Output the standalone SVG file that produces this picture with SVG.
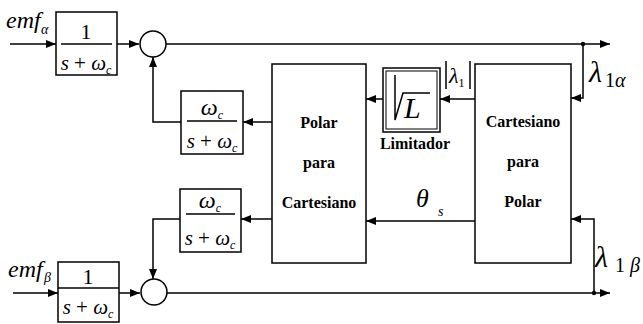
<svg xmlns="http://www.w3.org/2000/svg" width="643" height="324" viewBox="0 0 643 324">
<style>
.b{fill:#fff;stroke:#000;stroke-width:1.5}
.l{fill:none;stroke:#000;stroke-width:1.5}
.t{fill:#000}
.i{font-style:italic}
.bd{font-weight:bold;font-size:16px}
</style>
<defs>
<marker id="a" viewBox="0 0 10 8" refX="10" refY="4" markerWidth="10" markerHeight="8" markerUnits="userSpaceOnUse" orient="auto"><path d="M0,0L10,4L0,8z" fill="#000"/></marker>
</defs>
<g id="connectors">
<path class="l" d="M10,44H56" marker-end="url(#a)"/>
<path class="l" d="M117,44H139" marker-end="url(#a)"/>
<path class="l" d="M166,44H610" marker-end="url(#a)"/>
<path class="l" d="M583,44V98H571" marker-end="url(#a)"/>
<circle cx="583" cy="44" r="2.2"/>
<path class="l" d="M13,293H58" marker-end="url(#a)"/>
<path class="l" d="M119,293H140" marker-end="url(#a)"/>
<path class="l" d="M167,293H610" marker-end="url(#a)"/>
<path class="l" d="M594,293V219H571" marker-end="url(#a)"/>
<circle cx="594" cy="293" r="2.2"/>
<path class="l" d="M475,99H440" marker-end="url(#a)"/>
<path class="l" d="M383,99H366" marker-end="url(#a)"/>
<path class="l" d="M475,221H366" marker-end="url(#a)"/>
<path class="l" d="M272,122H243" marker-end="url(#a)"/>
<path class="l" d="M181,122H153V57" marker-end="url(#a)"/>
<path class="l" d="M272,219H241" marker-end="url(#a)"/>
<path class="l" d="M180,219H153V279" marker-end="url(#a)"/>
</g>
<g font-family="'Liberation Serif', 'DejaVu Serif', serif">
<g id="emf_alpha"><text class="t i" x="6" y="28" font-size="24">emf</text><text class="t i" x="41" y="34" font-size="14">α</text></g>
<g id="tf_alpha">
<rect class="b" x="56" y="12" width="61" height="63"/>
<path class="l" d="M61,44H112"/>
<text class="t" x="86" y="39" font-size="22" text-anchor="middle">1</text>
<text class="t" x="86" y="70" font-size="21" text-anchor="middle"><tspan class="i">s</tspan> + <tspan class="i">ω</tspan><tspan class="i" font-size="12" dy="4">c</tspan></text>
</g>
<g id="sum_alpha"><circle class="b" cx="153" cy="44" r="13"/></g>
<g id="emf_beta"><text class="t i" x="8" y="277" font-size="24">emf</text><text class="t i" x="44" y="282" font-size="14">β</text></g>
<g id="tf_beta">
<rect class="b" x="58" y="262" width="61" height="60"/>
<path class="l" d="M58,288H119"/>
<text class="t" x="88" y="284" font-size="22" text-anchor="middle">1</text>
<text class="t" x="88" y="314" font-size="21" text-anchor="middle"><tspan class="i">s</tspan> + <tspan class="i">ω</tspan><tspan class="i" font-size="12" dy="4">c</tspan></text>
</g>
<g id="sum_beta"><circle class="b" cx="154" cy="292" r="13"/></g>
<g id="lpf_alpha">
<rect class="b" x="181" y="91" width="62" height="63"/>
<path class="l" d="M187,121H237"/>
<text class="t i" x="212" y="115" font-size="24" text-anchor="middle">ω<tspan font-size="12" dy="4">c</tspan></text>
<text class="t" x="212" y="148" font-size="21" text-anchor="middle"><tspan class="i">s</tspan> + <tspan class="i">ω</tspan><tspan class="i" font-size="12" dy="4">c</tspan></text>
</g>
<g id="lpf_beta">
<rect class="b" x="180" y="189" width="61" height="63"/>
<path class="l" d="M186,214H235"/>
<text class="t i" x="210" y="208" font-size="24" text-anchor="middle">ω<tspan font-size="12" dy="4">c</tspan></text>
<text class="t" x="210" y="245" font-size="21" text-anchor="middle"><tspan class="i">s</tspan> + <tspan class="i">ω</tspan><tspan class="i" font-size="12" dy="4">c</tspan></text>
</g>
<g id="polar_cart">
<rect class="b" x="272" y="64" width="94" height="199"/>
<text class="t bd" x="319" y="128" text-anchor="middle">Polar</text>
<text class="t bd" x="319" y="168" text-anchor="middle">para</text>
<text class="t bd" x="319" y="208" text-anchor="middle">Cartesiano</text>
</g>
<g id="limitador">
<rect class="b" x="383" y="68" width="57" height="64"/>
<rect x="386" y="71" width="51" height="58" fill="none" stroke="#000" stroke-width="1"/>
<path class="l" d="M395,75V120L403,93H430"/>
<text class="t i" x="404" y="118" font-size="30">L</text>
<text class="t bd" x="415" y="149" text-anchor="middle">Limitador</text>
</g>
<g id="abs_lambda">
<path class="l" d="M446,61V89M470,61V89"/>
<text class="t i" x="449" y="83" font-size="22">λ<tspan font-size="12" font-style="normal" dy="4">1</tspan></text>
</g>
<g id="theta_s"><text class="t i" x="416" y="207" font-size="26">θ</text><text class="t i" x="438" y="216" font-size="14">s</text></g>
<g id="cart_polar">
<rect class="b" x="475" y="64" width="96" height="199"/>
<text class="t bd" x="523" y="127" text-anchor="middle">Cartesiano</text>
<text class="t bd" x="523" y="167" text-anchor="middle">para</text>
<text class="t bd" x="523" y="207" text-anchor="middle">Polar</text>
</g>
<g id="lambda_alpha"><text class="t i" x="589" y="82" font-size="30">λ</text><text class="t" x="605" y="87" font-size="20">1<tspan class="i">α</tspan></text></g>
<g id="lambda_beta"><text class="t i" x="595" y="267" font-size="30">λ</text><text class="t" x="615" y="272" font-size="20">1 <tspan class="i">β</tspan></text></g>
</g>
</svg>
